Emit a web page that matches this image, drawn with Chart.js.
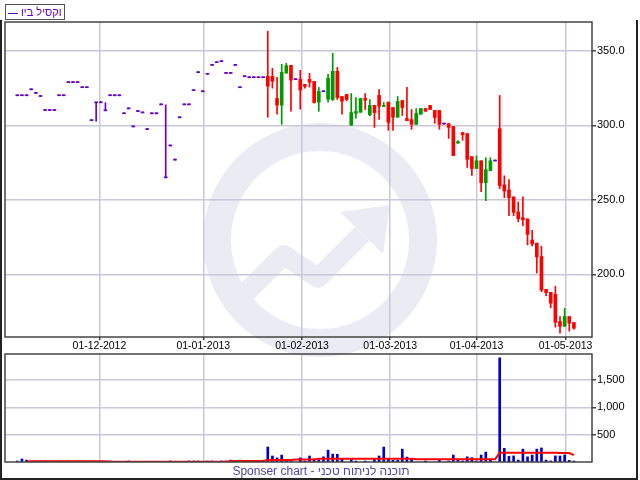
<!DOCTYPE html>
<html>
<head>
<meta charset="utf-8">
<script src="https://cdn.jsdelivr.net/npm/chart.js@4.4.1/dist/chart.umd.min.js"></script>
<style>
  body { margin: 0; background: #fff; }
  #wrap { position: relative; width: 640px; height: 480px; overflow: hidden; background: #fff; }
  canvas { position: absolute; left: 0; top: 0; }
  #frame { position: absolute; left: 0; top: 20px; width: 638px; height: 460px; box-sizing: border-box;
           border: 2px solid #222; border-top: none; }
  #legend { position: absolute; left: 5px; top: 4px; width: 60px; height: 16px; box-sizing: border-box;
            border: 1px solid #555; font: 11px "Liberation Sans", Arial, sans-serif; color: #6600cc;
            line-height: 14px; white-space: nowrap; overflow: hidden; }
  #legend .ln { display: inline-block; width: 10px; height: 1px; background: #6600cc; vertical-align: middle;
                margin: 0 3px 0 2px; }
  #footer { position: absolute; left: 0; width: 642px; top: 464px; text-align: center;
            font: 12px "Liberation Sans", Arial, sans-serif; color: #4f44a6; line-height: 14px; }
</style>
</head>
<body>
<div id="wrap">
  <canvas id="chart_price" width="640" height="480"></canvas>
  <canvas id="chart_volume" width="640" height="480"></canvas>
  <div id="frame"></div>
  <div id="legend"><span class="ln"></span><span dir="rtl">וקסיל ביו</span></div>
  <div id="footer">Sponser chart - תוכנה לניתוח טכני</div>
</div>
<script>
// month ticks sit at fractional trading-day positions
const monthTicks = [17.7, 40.1, 61.4, 80.4, 99.0, 118.2];
const monthLabels = ['01-12-2012', '01-01-2013', '01-02-2013', '01-03-2013', '01-04-2013', '01-05-2013'];

const priceTicks = [200, 250, 300, 350];
const volumeTicks = [500, 1000, 1500];

const open = [
    319.8, 319.8, 319.8, 323.8, 321.4, 319.3, 309.9, 309.9, 309.9, 319.8,
    319.8, 328.6, 328.6, 328.6, 325.2, 325.2, 303.1, 315.1, 315.1, 309.7,
    319.8, 319.8, 319.8, 307.7, 311.0, 298.9, 309.2, 308.3, 297.1, 307.7,
    307.7, 313.7, 264.7, 286.1, 276.6, 305.0, 313.7, 313.7, 323.2, 335.3,
    322.5, 334.2, 340.2, 342.0, 342.7, 334.8, 334.8, 340.2, 325.2, 332.6,
    331.9, 331.9, 331.9, 331.9, 332.8, 332.8, 318.0, 313.5, 335.0, 340.2,
    330.6, 330.8, 327.4, 330.8, 329.4, 315.5, 322.5, 317.5, 317.3, 336.2,
    319.3, 320.7, 300.0, 308.1, 308.7, 318.0, 307.0, 313.3, 320.0, 312.6,
    315.5, 311.9, 305.4, 316.6, 304.5, 303.8, 300.6, 307.4, 311.2, 313.3,
    309.9, 309.9, 300.8, 301.1, 299.1, 288.0, 295.1, 294.4, 278.9, 271.0,
    276.2, 261.5, 269.6, 276.0, 297.7, 260.0, 256.6, 251.9, 241.8, 238.0,
    237.1, 222.9, 220.9, 211.9, 189.9, 187.9, 186.5, 168.3, 165.1, 171.6,
    167.6
];
const high = [
    319.8, 319.8, 319.8, 323.8, 321.4, 319.3, 309.9, 309.9, 309.9, 319.8,
    319.8, 328.6, 328.6, 328.6, 325.2, 325.2, 303.1, 315.1, 315.1, 315.1,
    319.8, 319.8, 319.8, 307.7, 311.0, 298.9, 309.2, 308.3, 297.1, 307.7,
    307.7, 313.7, 313.7, 286.1, 276.6, 305.0, 313.7, 313.7, 323.2, 335.3,
    322.5, 334.2, 340.2, 342.0, 342.7, 334.8, 334.8, 340.2, 325.2, 332.6,
    331.9, 331.9, 331.9, 331.9, 363.1, 338.2, 332.1, 340.9, 341.6, 340.2,
    330.6, 336.9, 327.4, 334.8, 329.4, 325.4, 322.5, 334.2, 348.3, 338.9,
    319.3, 320.7, 321.3, 318.6, 318.0, 321.3, 317.3, 313.3, 324.0, 315.3,
    315.5, 311.9, 319.3, 316.6, 325.4, 310.6, 311.2, 311.2, 311.2, 313.3,
    309.9, 309.9, 300.8, 301.1, 299.1, 289.7, 295.1, 294.4, 278.9, 279.5,
    276.2, 278.2, 278.2, 276.0, 320.0, 266.1, 263.6, 251.9, 248.5, 251.9,
    237.1, 229.5, 220.9, 218.9, 189.9, 187.9, 191.9, 171.6, 177.1, 171.6,
    167.6
];
const low = [
    319.8, 319.8, 319.8, 323.8, 321.4, 319.3, 309.9, 309.9, 309.9, 319.8,
    319.8, 328.6, 328.6, 328.6, 325.2, 325.2, 303.1, 302.7, 315.1, 309.7,
    319.8, 319.8, 319.8, 307.7, 311.0, 298.9, 309.2, 308.3, 297.1, 307.7,
    307.7, 313.7, 264.7, 286.1, 276.6, 305.0, 313.7, 313.7, 323.2, 335.3,
    322.5, 334.2, 340.2, 342.0, 342.7, 334.8, 334.8, 340.2, 325.2, 332.6,
    331.9, 331.9, 331.9, 331.9, 305.4, 324.9, 307.4, 300.6, 335.0, 309.4,
    330.6, 310.8, 324.9, 325.6, 314.8, 309.4, 322.5, 315.5, 316.6, 317.3,
    307.4, 316.4, 300.0, 304.7, 308.7, 310.6, 306.3, 298.6, 304.0, 312.6,
    296.6, 296.6, 305.4, 306.5, 303.1, 297.3, 300.6, 307.4, 309.4, 310.6,
    301.3, 297.3, 300.8, 291.2, 279.7, 288.0, 289.9, 271.7, 266.3, 271.0,
    255.5, 249.4, 269.6, 276.0, 257.5, 251.4, 239.3, 239.3, 235.3, 232.6,
    219.7, 219.1, 200.9, 188.3, 185.6, 177.5, 164.5, 160.4, 165.1, 161.8,
    163.1
];
const close = [
    319.8, 319.8, 319.8, 323.8, 321.4, 319.3, 309.9, 309.9, 309.9, 319.8,
    319.8, 328.6, 328.6, 328.6, 325.2, 325.2, 303.1, 315.1, 315.1, 309.7,
    319.8, 319.8, 319.8, 307.7, 311.0, 298.9, 309.2, 308.3, 297.1, 307.7,
    307.7, 313.7, 264.7, 286.1, 276.6, 305.0, 313.7, 313.7, 323.2, 335.3,
    322.5, 334.2, 340.2, 342.0, 342.7, 334.8, 334.8, 340.2, 325.2, 332.6,
    331.9, 331.9, 331.9, 331.9, 326.3, 329.6, 313.5, 335.5, 340.0, 330.3,
    330.6, 323.6, 326.1, 329.0, 315.3, 322.7, 322.5, 331.5, 336.2, 318.6,
    316.2, 317.3, 308.5, 309.2, 318.0, 316.8, 313.3, 308.5, 312.8, 313.3,
    302.0, 305.4, 316.0, 311.9, 303.1, 300.6, 307.9, 311.2, 309.4, 310.6,
    305.2, 300.6, 300.8, 298.6, 279.7, 289.0, 293.7, 277.1, 271.0, 276.2,
    261.5, 270.1, 276.2, 276.0, 259.5, 255.9, 251.4, 241.5, 237.3, 236.6,
    226.8, 220.4, 211.7, 189.4, 187.7, 180.6, 167.8, 165.1, 171.6, 167.2,
    163.8
];
const volume = [
    15, 55, 35, null, null, 15, 15, null, null, 15,
    null, 15, null, 15, 15, null, null, null, null, null,
    15, null, null, null, 15, null, null, null, null, null,
    null, null, null, 15, null, null, null, 15, 15, 15,
    null, 15, 15, null, 15, 15, 35, null, 35, null,
    15, 15, null, null, 275, 110, 75, 127, 15, 30,
    null, 75, 15, 110, 55, 50, 95, 218, 145, 140,
    60, null, 58, 15, null, 15, null, 60, 110, 273,
    55, 30, 30, 236, 90, 55, null, null, 15, null,
    null, 30, null, 15, 127, 40, 15, 95, 80, 15,
    127, 182, 36, null, 1910, 250, 103, 112, 36, 236,
    95, 127, 236, 258, 36, 20, 112, 110, 130, 30,
    18
];
const volumeAvg = [
    null, null, 15, 15, 15, 15, 15, 15, 15, 15,
    15, 15, 15, 15, 15, 15, 15, 15, 15, 15,
    6, 6, 6, 6, 6, 6, 6, 6, 6, 6,
    6, 6, 6, 6, 6, 6, 6, 6, 6, 6,
    6, 6, 6, 6, 6, 6, 18, 18, 18, 18,
    18, 18, 18, 18, 35, 35, 35, 35, 35, 35,
    45, 45, 45, 45, 45, 58, 58, 58, 58, 58,
    58, 58, 58, 58, 58, 58, 58, 58, 58, 58,
    58, 58, 58, 58, 58, 58, 52, 52, 52, 52,
    52, 52, 52, 52, 52, 52, 52, 52, 52, 52,
    52, 52, 52, 50, 168, 168, 168, 168, 168, 168,
    168, 168, 168, 168, 168, 168, 168, 165, 165, 165,
    125
];

const RED = '#ff0000';
const GREEN = '#009900';
const PURPLE = '#6600cc';
const GRID = '#c8c8d8';
const AXIS = '#444444';
const X_MIN = -2.65;
const X_MAX = 123.9;

Chart.defaults.font.family = '"Liberation Sans", Arial, sans-serif';
Chart.defaults.font.size = 11;
Chart.defaults.color = '#000';

const days = open.map((_, i) => i);

function candleColor(i) {
    if (close[i] > open[i]) return GREEN;
    if (close[i] < open[i]) return RED;
    return PURPLE;
}

const panelBorder = {
    id: 'panelBorder',
    afterDraw(chart) {
        const { ctx, chartArea: a } = chart;
        ctx.save();
        ctx.strokeStyle = AXIS;
        ctx.lineWidth = 1.5;
        ctx.strokeRect(a.left, a.top, a.right - a.left, a.bottom - a.top);
        ctx.restore();
    }
};

// light logo behind the plot
const watermark = {
    id: 'watermark',
    beforeDraw(chart) {
        const ctx = chart.ctx;
        ctx.save();
        ctx.strokeStyle = '#ebebf4';
        ctx.fillStyle = '#ebebf4';
        ctx.lineWidth = 28;
        ctx.beginPath();
        ctx.arc(320, 240, 103, 0, Math.PI * 2);
        ctx.stroke();
        ctx.lineWidth = 20;
        ctx.lineJoin = 'round';
        ctx.beginPath();
        ctx.moveTo(238, 300);
        ctx.lineTo(284, 255);
        ctx.lineTo(318, 278);
        ctx.lineTo(362, 234);
        ctx.stroke();
        ctx.beginPath();
        ctx.moveTo(390, 205);
        ctx.lineTo(340, 212);
        ctx.lineTo(383, 254);
        ctx.closePath();
        ctx.fill();
        ctx.restore();
    }
};

function monthAxis(showLabels) {
    return {
        type: 'linear',
        position: 'bottom',
        min: X_MIN,
        max: X_MAX,
        offset: false,
        afterBuildTicks: (scale) => {
            scale.ticks = monthTicks.map(v => ({ value: v }));
        },
        afterFit: (scale) => {
            scale.height = showLabels ? 15 : 0;
        },
        border: { display: false },
        grid: {
            offset: false,
            color: GRID,
            lineWidth: 1.5,
            drawTicks: showLabels,
            tickLength: 3,
            tickColor: AXIS
        },
        ticks: {
            display: showLabels,
            autoSkip: false,
            maxRotation: 0,
            padding: 0,
            font: { size: 10.5 },
            callback: (value, index) => monthLabels[index]
        }
    };
}

new Chart(document.getElementById('chart_price'), {
    type: 'bar',
    data: {
        datasets: [{
            label: 'wick',
            data: days.map(i => ({ x: i, y: [low[i], high[i]] })),
            backgroundColor: days.map(candleColor),
            barThickness: 1,
            minBarLength: 1,
            grouped: false
        }, {
            label: 'body',
            data: days.map(i => ({ x: i, y: [open[i], close[i]] })),
            backgroundColor: days.map(candleColor),
            barThickness: 3,
            minBarLength: 1,
            grouped: false
        }]
    },
    plugins: [watermark, panelBorder],
    options: {
        responsive: false,
        animation: false,
        layout: { padding: { top: 22, left: 5, right: 0, bottom: 128 } },
        plugins: { legend: { display: false }, tooltip: { enabled: false } },
        scales: {
            x: monthAxis(true),
            y: {
                position: 'right',
                min: 157.9,
                max: 369.3,
                afterBuildTicks: (scale) => {
                    scale.ticks = priceTicks.map(v => ({ value: v }));
                },
                afterFit: (scale) => {
                    scale.width = 48;
                },
                border: { display: false },
                grid: { color: GRID, lineWidth: 1.5, tickLength: 4, tickColor: AXIS },
                ticks: {
                    padding: 1,
                    callback: (value) => value.toFixed(1)
                }
            }
        }
    }
});

new Chart(document.getElementById('chart_volume'), {
    type: 'bar',
    data: {
        datasets: [{
            type: 'line',
            label: 'average',
            data: days.map(i => ({ x: i, y: volumeAvg[i] })),
            borderColor: RED,
            borderWidth: 2,
            pointRadius: 0,
            order: 0
        }, {
            label: 'volume',
            data: days.map(i => ({ x: i, y: volume[i] })),
            backgroundColor: '#0000cc',
            barThickness: 2,
            minBarLength: 1,
            order: 1
        }]
    },
    plugins: [panelBorder],
    options: {
        responsive: false,
        animation: false,
        layout: { padding: { top: 354, left: 5, right: 0, bottom: 18 } },
        plugins: { legend: { display: false }, tooltip: { enabled: false } },
        scales: {
            x: monthAxis(false),
            y: {
                position: 'right',
                min: 0,
                max: 1980,
                afterBuildTicks: (scale) => {
                    scale.ticks = volumeTicks.map(v => ({ value: v }));
                },
                afterFit: (scale) => {
                    scale.width = 48;
                },
                border: { display: false },
                grid: { color: GRID, lineWidth: 1.5, tickLength: 4, tickColor: AXIS },
                ticks: {
                    padding: 1,
                    callback: (value) => value.toLocaleString('en-US')
                }
            }
        }
    }
});
</script>
</body>
</html>
